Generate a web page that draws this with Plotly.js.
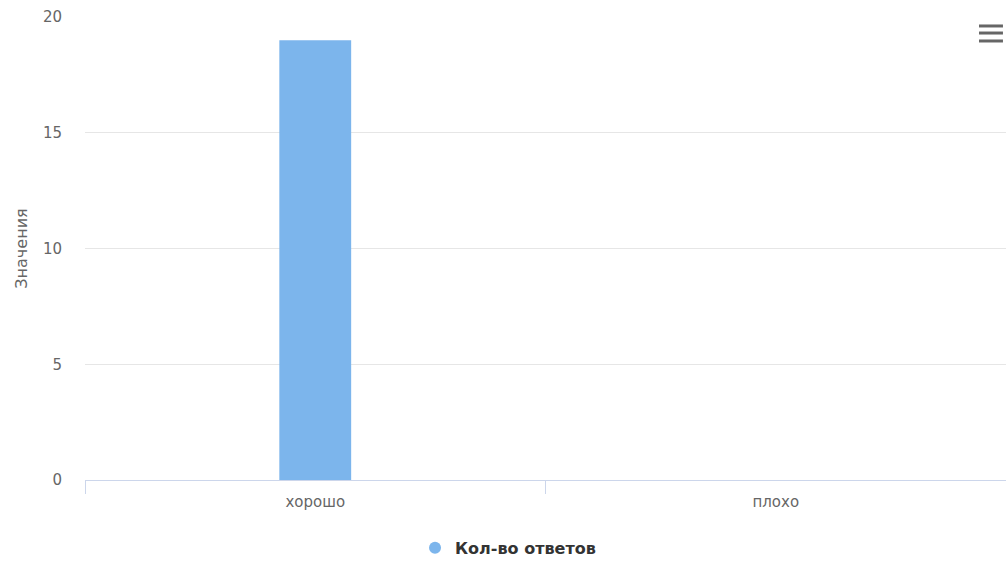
<!DOCTYPE html>
<html>
<head>
<meta charset="utf-8">
<script src="https://cdn.plot.ly/plotly-3.0.1.min.js"></script>
<style>html,body{margin:0;padding:0;background:#fff;}#chart{width:1006px;height:563px;}</style>
</head>
<body>
<div id="chart"></div>
<script>
const categories = ["хорошо", "плохо"];
const answerCounts = [19, 0];
const seriesName = "Кол-во ответов";
const yAxisTitle = "Значения";
const yTicks = [0, 5, 10, 15, 20];

const FONT = "DejaVu Sans, Verdana, sans-serif";

const traces = [
  {
    type: "bar",
    x: categories,
    y: answerCounts,
    name: seriesName,
    marker: {color: "#7cb5ec"},
    showlegend: false,
    hoverinfo: "x+y"
  },
  {
    type: "scatter",
    mode: "markers",
    x: [null],
    y: [null],
    name: seriesName,
    marker: {color: "#7cb5ec", symbol: "circle", size: 12},
    showlegend: true,
    hoverinfo: "skip"
  }
];

function hline(y) {
  return {type: "line", xref: "paper", yref: "paper", x0: 0.9707, x1: 0.9967, y0: y, y1: y,
          line: {color: "#666666", width: 3}};
}

const layout = {
  width: 1006,
  height: 563,
  margin: {l: 85, r: 0, t: 17, b: 83, pad: 0},
  paper_bgcolor: "#ffffff",
  plot_bgcolor: "#ffffff",
  font: {family: FONT, size: 15, color: "#666666"},
  bargap: 0.844,
  xaxis: {
    type: "category",
    range: [-0.5, 1.5],
    showgrid: false,
    showline: true,
    linecolor: "#ccd6eb",
    linewidth: 1,
    ticks: "outside",
    tickson: "boundaries",
    ticklen: 13,
    tickcolor: "#ccd6eb",
    ticklabelstandoff: 8,
    tickfont: {family: FONT, size: 15, color: "#666666"},
    zeroline: false,
    fixedrange: true
  },
  yaxis: {
    range: [0, 20],
    tickvals: yTicks,
    showgrid: true,
    gridcolor: "#e6e6e6",
    gridwidth: 1,
    zeroline: false,
    showline: false,
    ticks: "",
    ticklabelstandoff: 22,
    tickfont: {family: FONT, size: 15, color: "#666666"},
    title: {text: yAxisTitle, font: {family: FONT, size: 16, color: "#666666"}, standoff: 11},
    fixedrange: true
  },
  showlegend: true,
  legend: {
    orientation: "h",
    x: 0.505,
    xref: "container",
    xanchor: "center",
    y: 0.027,
    yref: "container",
    yanchor: "middle",
    font: {family: FONT, size: 16, color: "#333333", weight: "bold"},
    itemsizing: "constant",
    bgcolor: "rgba(0,0,0,0)"
  },
  shapes: [hline(0.9806), hline(0.9654), hline(0.9482)]
};

Plotly.newPlot("chart", traces, layout, {displayModeBar: false, responsive: false});
</script>
</body>
</html>
